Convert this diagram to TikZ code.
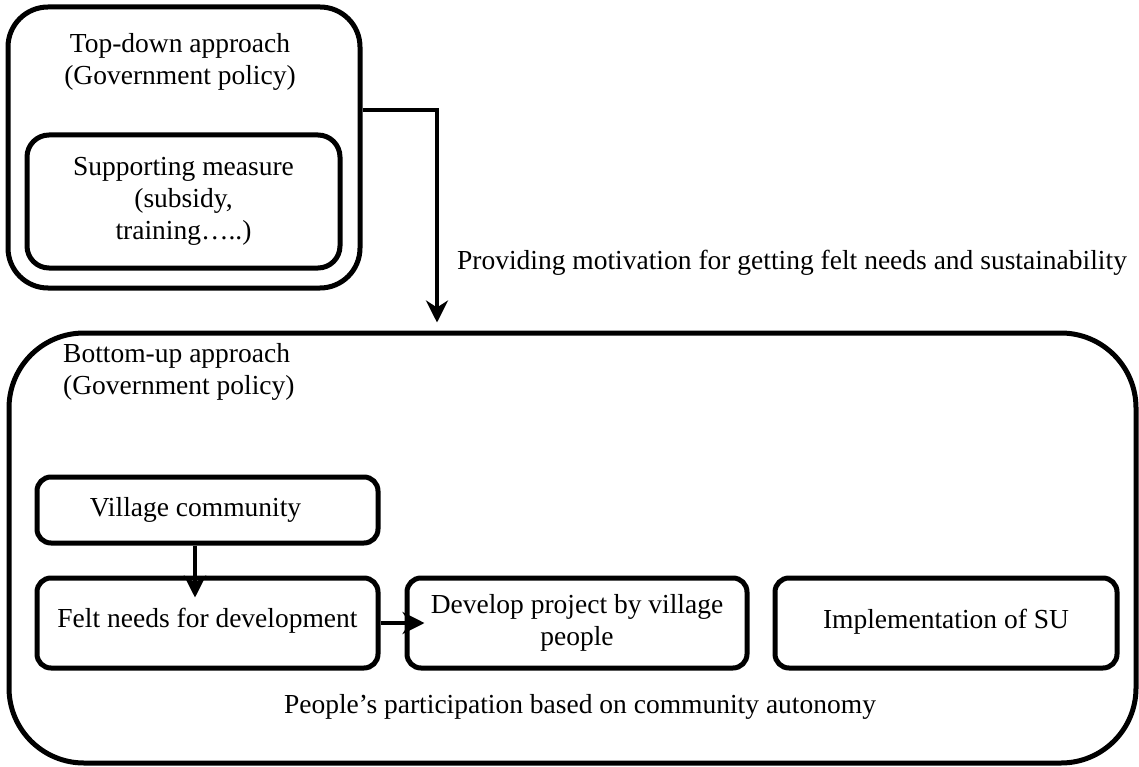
\documentclass[tikz,border=0pt]{standalone}
\usepackage{fontspec}
\setmainfont{Liberation Serif}
\usetikzlibrary{arrows.meta,calc}
\begin{document}
\begin{tikzpicture}[x=1pt,y=-1pt,
  txt/.style={font=\fontsize{27.5}{32}\selectfont, align=center, inner sep=0pt},
  bigbox/.style={draw, line width=5pt, rounded corners=#1, inner sep=0pt},
  smallbox/.style={draw, line width=5pt, rounded corners=14pt, inner sep=0pt,
     font=\fontsize{27.5}{32}\selectfont, align=center},
  conn/.style={line width=4pt, -{Stealth[length=22pt,width=22pt,inset=7pt]}}
]
\useasboundingbox (0,0) rectangle (1139,767);
% top box
\node[bigbox=40pt, minimum width=352pt, minimum height=281pt] (top) at (184,147.5) {};
\node[txt] (toplbl) at (180,62) {Top-down approach\\(Government policy)};
\node[smallbox, rounded corners=22pt, minimum width=313pt, minimum height=133pt] (support) at (183.5,201.5) {Supporting measure\\(subsidy,\\training\dots..)};
% big box
\node[bigbox=75pt, minimum width=1127pt, minimum height=430pt] (big) at (572.5,548) {};
\node[txt, align=left, anchor=west] (botlbl) at (63,372) {Bottom-up approach\\(Government policy)};
% inner boxes
\node[smallbox, minimum width=341pt, minimum height=66pt] (village) at (207.5,510) {\hspace{-24pt}Village community};
\node[smallbox, minimum width=341pt, minimum height=90pt] (felt) at (207.5,623) {\raisebox{10pt}{Felt needs for development}};
\node[smallbox, minimum width=340pt, minimum height=90pt] (develop) at (577,623) {\raisebox{8pt}{\begin{tabular}{@{}c@{}}Develop project by village\\people\end{tabular}}};
\node[smallbox, minimum width=342pt, minimum height=90pt] (impl) at (946,623) {\raisebox{8pt}{Implementation of SU}};
\node[txt] (people) at (580,707) {People’s participation based on community autonomy};
\node[txt] (motiv) at (792,263) {Providing motivation for getting felt needs and sustainability};
% connectors
\coordinate (bend) at (437,110);
\draw[conn] (top.east |- bend) -- (bend) -- ([yshift=8pt]big.north -| bend);
\coordinate (vx) at (195,0);
\draw[conn] (village.south -| vx) -- ([yshift=-22pt]felt.north -| vx);
\draw[conn] (felt.east) -- ([xshift=20pt]develop.west);
\end{tikzpicture}
\end{document}
